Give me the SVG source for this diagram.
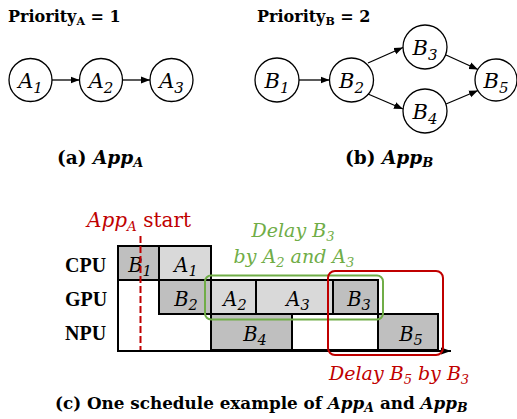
<svg xmlns="http://www.w3.org/2000/svg" width="517" height="419" viewBox="0 0 517 419">
<defs>
<marker id="arr" markerWidth="9" markerHeight="8" refX="9" refY="4" orient="auto" markerUnits="userSpaceOnUse"><path d="M0,0.5 L9,4 L0,7.5 Z" fill="#000"/></marker>
<marker id="arr2" markerWidth="10" markerHeight="8" refX="10" refY="4" orient="auto" markerUnits="userSpaceOnUse"><path d="M0,0.5 L10,4 L0,7.5 Z" fill="#000"/></marker>
</defs>
<style>
.cap{font-family:"DejaVu Serif",serif;font-weight:bold;font-size:16px;fill:#000}
.node circle{fill:#fff;stroke:#000;stroke-width:1.3}
.nl{font-family:"DejaVu Serif",serif;font-style:italic;font-size:21px;text-anchor:middle;fill:#000}
.conn line{stroke:#000;stroke-width:1.3;marker-end:url(#arr)}
.dk{fill:#bfbfbf;stroke:#000;stroke-width:2}
.lt{fill:#d9d9d9;stroke:#000;stroke-width:2}
.wh{fill:#fff;stroke:#000;stroke-width:2}
.bl{font-family:"DejaVu Serif",serif;font-style:italic;font-size:19.5px;text-anchor:middle;fill:#000}
.row{font-family:"Liberation Serif",serif;font-weight:bold;font-size:20px;fill:#000}
.ann{font-family:"DejaVu Serif",serif;font-size:19px}
</style>

<!-- Top captions -->
<text class="cap" x="8" y="22">Priority<tspan font-size="11" dy="3">A</tspan><tspan dy="-3"> = 1</tspan></text>
<text class="cap" x="257" y="22">Priority<tspan font-size="11" dy="3">B</tspan><tspan dy="-3"> = 2</tspan></text>

<!-- App A graph -->
<g id="A1" class="node"><circle cx="30.5" cy="80" r="21.5"/><text class="nl" x="30.5" y="87.5">A<tspan font-size="15" dy="5">1</tspan></text></g>
<g id="A2" class="node"><circle cx="101" cy="80" r="21.5"/><text class="nl" x="101" y="87.5">A<tspan font-size="15" dy="5">2</tspan></text></g>
<g id="A3" class="node"><circle cx="171.5" cy="80" r="21.5"/><text class="nl" x="171.5" y="87.5">A<tspan font-size="15" dy="5">3</tspan></text></g>

<!-- App B graph -->
<g id="B1" class="node"><circle cx="277" cy="80" r="22"/><text class="nl" x="277" y="87.5">B<tspan font-size="15" dy="5">1</tspan></text></g>
<g id="B2" class="node"><circle cx="351.5" cy="80" r="22"/><text class="nl" x="351.5" y="87.5">B<tspan font-size="15" dy="5">2</tspan></text></g>
<g id="B3" class="node"><circle cx="425" cy="47" r="22"/><text class="nl" x="425" y="54.5">B<tspan font-size="15" dy="5">3</tspan></text></g>
<g id="B4" class="node"><circle cx="425" cy="111" r="22"/><text class="nl" x="425" y="118.5">B<tspan font-size="15" dy="5">4</tspan></text></g>
<g id="B5" class="node"><circle cx="496" cy="80" r="21"/><text class="nl" x="496" y="87.5">B<tspan font-size="15" dy="5">5</tspan></text></g>

<g id="connectors" class="conn">
<line x1="52" y1="80" x2="79.5" y2="80"/>
<line x1="122.5" y1="80" x2="150" y2="80"/>
<line x1="299" y1="80" x2="329.5" y2="80"/>
<line x1="368" y1="63" x2="403" y2="47.5"/>
<line x1="368" y1="94" x2="403" y2="109"/>
<line x1="446" y1="55" x2="478" y2="69.5"/>
<line x1="446" y1="104" x2="478" y2="90.5"/>
</g>

<text class="cap" x="57" y="164" style="font-size:18.5px">(a)  <tspan font-style="italic">App</tspan><tspan font-style="italic" font-size="13" dy="3">A</tspan></text>
<text class="cap" x="345" y="164" style="font-size:18.5px">(b)  <tspan font-style="italic">App</tspan><tspan font-style="italic" font-size="13" dy="3">B</tspan></text>

<!-- Schedule chart -->
<g id="rows">
<text class="row" x="65" y="272">CPU</text>
<text class="row" x="65" y="306">GPU</text>
<text class="row" x="65" y="340">NPU</text>
</g>

<g id="sched">
<rect class="dk" x="118" y="246" width="41" height="34"/>
<rect class="lt" x="159" y="246" width="52" height="34"/>
<rect class="dk" x="159" y="280" width="52" height="34"/>
<rect class="lt" x="211" y="280" width="45" height="34"/>
<rect class="lt" x="256" y="280" width="77" height="34"/>
<rect class="dk" x="333" y="280" width="45" height="34"/>
<rect class="dk" x="211" y="314" width="81" height="36"/>
<rect class="wh" x="292" y="314" width="86" height="36"/>
<rect class="dk" x="378" y="314" width="60" height="36"/>
</g>
<g id="labels">
<text class="bl" x="140" y="272">B<tspan font-size="14.5" dy="4">1</tspan></text>
<text class="bl" x="186" y="272">A<tspan font-size="14.5" dy="4">1</tspan></text>
<text class="bl" x="186" y="306">B<tspan font-size="14.5" dy="4">2</tspan></text>
<text class="bl" x="235" y="306">A<tspan font-size="14.5" dy="4">2</tspan></text>
<text class="bl" x="298" y="306">A<tspan font-size="14.5" dy="4">3</tspan></text>
<text class="bl" x="359" y="306">B<tspan font-size="14.5" dy="4">3</tspan></text>
<text class="bl" x="255" y="341">B<tspan font-size="14.5" dy="4">4</tspan></text>
<text class="bl" x="411" y="341">B<tspan font-size="14.5" dy="4">5</tspan></text>
</g>

<g id="axes">
<line x1="118" y1="246" x2="118" y2="351" stroke="#000" stroke-width="2"/>
<line x1="117" y1="351" x2="451" y2="351" stroke="#000" stroke-width="2" marker-end="url(#arr2)"/>
</g>

<line id="start" x1="140.5" y1="236" x2="140.5" y2="350" stroke="#c00000" stroke-width="2" stroke-dasharray="7,3"/>
<text class="ann" x="87" y="227" fill="#c00000" style="font-size:20px"><tspan font-style="italic">App</tspan><tspan font-style="italic" font-size="13.5" dy="4">A</tspan><tspan dy="-4"> start</tspan></text>

<rect id="green" x="205" y="275.5" width="178" height="44" rx="6" fill="none" stroke="#70ad47" stroke-width="2"/>
<text class="ann" x="293" y="237" fill="#70ad47" text-anchor="middle" font-style="italic">Delay B<tspan font-size="13" dy="4">3</tspan></text>
<text class="ann" x="294" y="263" fill="#70ad47" text-anchor="middle" font-style="italic">by A<tspan font-size="13" dy="4">2</tspan><tspan dy="-4"> and A</tspan><tspan font-size="13" dy="4">3</tspan></text>

<rect id="red" x="328" y="271" width="115" height="84" rx="7" fill="none" stroke="#c00000" stroke-width="2"/>
<text class="ann" x="329" y="380" fill="#c00000" font-style="italic">Delay B<tspan font-size="13" dy="4">5</tspan><tspan dy="-4"> by B</tspan><tspan font-size="13" dy="4">3</tspan></text>

<text class="cap" x="55" y="409" style="font-size:16.8px">(c)  One schedule example of <tspan font-style="italic">App</tspan><tspan font-style="italic" font-size="12.5" dy="3">A</tspan><tspan dy="-3"> and </tspan><tspan font-style="italic">App</tspan><tspan font-style="italic" font-size="12.5" dy="3">B</tspan></text>
</svg>
